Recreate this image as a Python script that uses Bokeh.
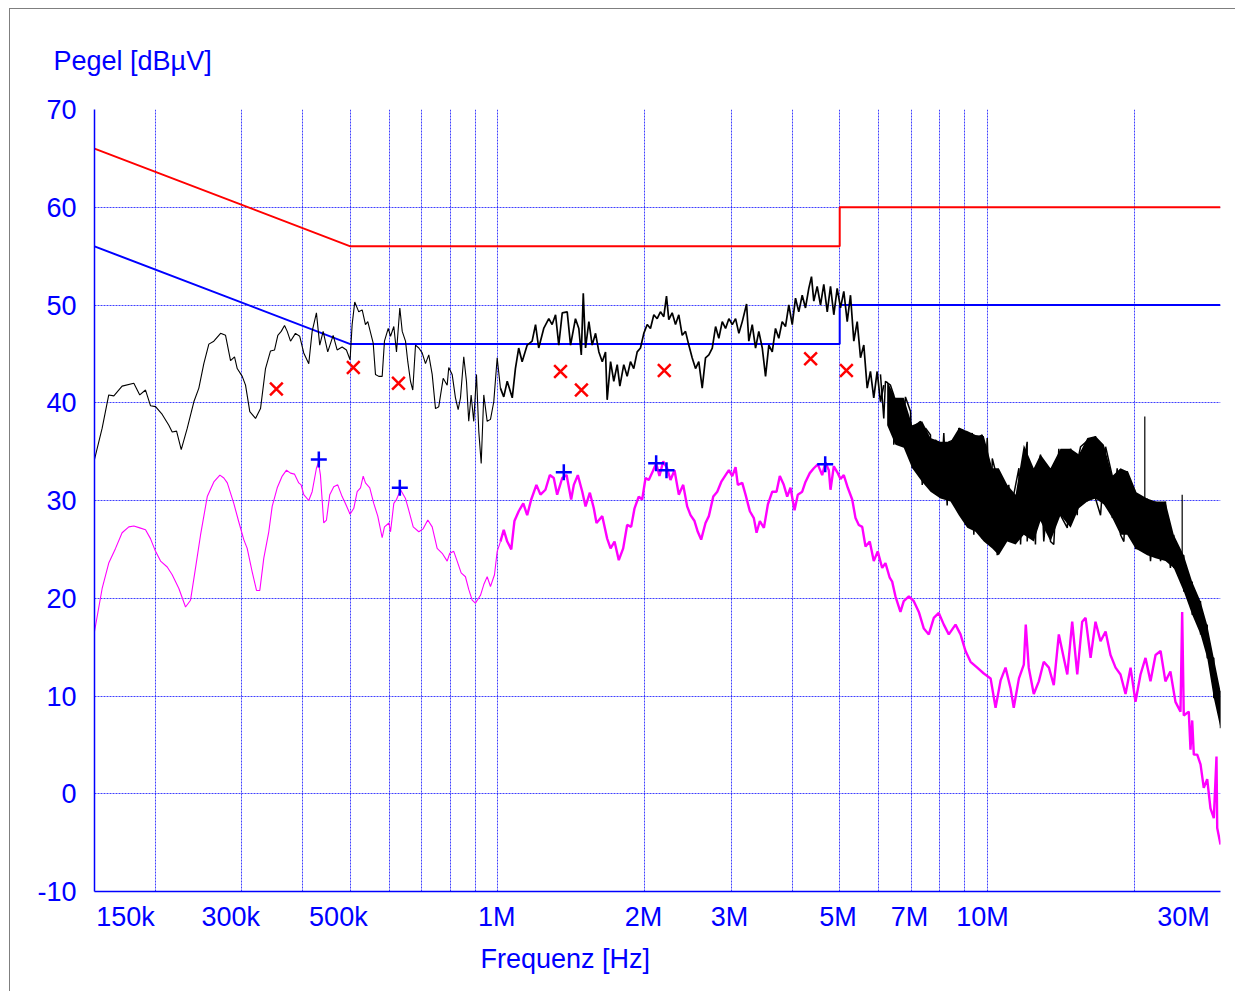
from bokeh.plotting import figure
from bokeh.models import Range1d, FixedTicker, Title, CustomJSTickFormatter
from bokeh.embed import file_html
from bokeh.resources import INLINE
import math

# ---------------- data (frequency in MHz, level in dBuV) ----------------
limit_qp_f = [0.15, 0.5, 5.0, 5.0, 30.0]
limit_qp_v = [66, 56, 56, 60, 60]
limit_av_f = [0.15, 0.5, 5.0, 5.0, 30.0]
limit_av_v = [56, 46, 46, 50, 50]

# black scan 0.15 - 6.2 MHz
peak_pts = [
    (0.150, 34.2), (0.1555, 37.4), (0.1604, 40.8), (0.1643, 40.7), (0.1708, 41.7),
    (0.1805, 42.0), (0.1856, 40.8), (0.1907, 41.3), (0.1952, 39.7), (0.1999, 39.6),
    (0.2063, 38.8), (0.2128, 37.7), (0.2162, 37.0), (0.2207, 37.1), (0.2256, 35.2),
    (0.2321, 37.4), (0.2394, 40.1), (0.2451, 41.5), (0.2509, 44.0), (0.2569, 46.0),
    (0.2630, 46.3), (0.2715, 47.1), (0.2779, 46.9), (0.2845, 44.3), (0.2899, 44.7),
    (0.2936, 43.5), (0.3006, 42.7), (0.3053, 41.8), (0.3115, 39.1), (0.3200, 38.4),
    (0.3276, 39.4), (0.3354, 43.5), (0.3434, 45.3), (0.3500, 45.4), (0.3554, 46.9),
    (0.3611, 47.3), (0.3668, 47.9), (0.3715, 47.3), (0.3773, 46.3), (0.3861, 47.1),
    (0.3940, 46.8), (0.4015, 45.1), (0.4111, 44.0), (0.4177, 47.3), (0.4262, 49.2),
    (0.4329, 45.9), (0.4399, 47.3), (0.4495, 45.2), (0.4611, 46.9), (0.4698, 45.4),
    (0.4810, 45.7), (0.4908, 45.4), (0.4993, 44.4), (0.5042, 48.0), (0.5104, 50.3),
    (0.5202, 49.3), (0.5286, 49.5), (0.5368, 48.0), (0.5427, 48.3), (0.5567, 46.1),
    (0.5627, 42.9), (0.5715, 42.7), (0.5807, 42.7), (0.5870, 46.3), (0.5975, 47.6),
    (0.6040, 46.8), (0.6134, 47.8), (0.6212, 45.2), (0.6310, 49.7), (0.6382, 47.3),
    (0.6481, 46.3), (0.6551, 44.2), (0.6635, 42.2), (0.6707, 41.3), (0.6794, 45.9),
    (0.6900, 45.6), (0.7010, 45.1), (0.7120, 44.0), (0.7231, 44.9), (0.7348, 42.9),
    (0.7463, 39.4), (0.7579, 39.6), (0.7738, 42.5), (0.7885, 41.8), (0.7944, 43.6),
    (0.8072, 42.9), (0.8198, 40.5), (0.8303, 39.3), (0.8394, 40.5), (0.8525, 44.7),
    (0.8634, 42.2), (0.8727, 38.1), (0.8826, 40.8), (0.8935, 38.1), (0.9051, 42.9),
    (0.9149, 37.1), (0.9254, 33.8), (0.9367, 40.8), (0.9518, 38.1), (0.9667, 38.3),
    (0.9818, 40.1), (0.9977, 44.6), (1.013, 41.5), (1.029, 40.6), (1.046, 42.2),
    (1.071, 40.5), (1.087, 43.5), (1.104, 45.6), (1.122, 44.2), (1.149, 45.9),
    (1.176, 46.3), (1.195, 48.0), (1.213, 45.6), (1.242, 47.6), (1.272, 48.6),
    (1.292, 48.0), (1.313, 49.0), (1.333, 45.9), (1.355, 49.2), (1.387, 49.3),
    (1.409, 45.9), (1.442, 48.6), (1.465, 47.6), (1.482, 44.9), (1.496, 51.2),
    (1.512, 45.6), (1.536, 48.3), (1.560, 45.9), (1.585, 47.1), (1.610, 45.2),
    (1.636, 44.2), (1.661, 45.2), (1.674, 40.3), (1.701, 44.2), (1.727, 42.2),
    (1.755, 43.9), (1.777, 41.7), (1.810, 43.9), (1.839, 42.7), (1.868, 44.2),
    (1.897, 43.5), (1.928, 45.2), (1.958, 45.6), (1.989, 47.1), (2.021, 48.0),
    (2.052, 47.6), (2.085, 49.0), (2.118, 48.6), (2.151, 49.3), (2.185, 48.8),
    (2.213, 50.9), (2.237, 48.5), (2.273, 49.2), (2.309, 48.0), (2.345, 49.0),
    (2.383, 46.9), (2.420, 47.3), (2.458, 45.9), (2.497, 44.6), (2.537, 43.5),
    (2.576, 44.2), (2.618, 41.5), (2.659, 44.6), (2.701, 44.9), (2.745, 45.6),
    (2.788, 47.8), (2.831, 46.6), (2.877, 48.3), (2.922, 47.6), (2.968, 48.6),
    (3.016, 48.0), (3.063, 48.6), (3.111, 47.1), (3.161, 48.3), (3.226, 50.1),
    (3.260, 46.3), (3.313, 48.0), (3.365, 45.6), (3.417, 47.3), (3.473, 45.6),
    (3.527, 42.7), (3.582, 45.9), (3.640, 45.2), (3.696, 47.6), (3.754, 46.6),
    (3.814, 48.3), (3.874, 47.8), (3.935, 50.0), (3.999, 48.0), (4.061, 50.7),
    (4.124, 49.3), (4.191, 51.0), (4.256, 49.7), (4.323, 51.7), (4.378, 52.9),
    (4.426, 50.4), (4.497, 51.9), (4.568, 50.0), (4.639, 52.1), (4.715, 49.3),
    (4.788, 51.9), (4.863, 49.0), (4.941, 51.7), (5.019, 49.7), (5.097, 51.4),
    (5.180, 48.3), (5.260, 51.0), (5.343, 46.3), (5.429, 48.3), (5.514, 44.6),
    (5.600, 45.9), (5.690, 41.5), (5.778, 43.2), (5.869, 40.5), (5.963, 43.2),
    (6.057, 40.1), (6.152, 41.8),
]

# black scan above 6.2 MHz: upper / lower edge of the dense noise band
band_f = [6.251, 6.499, 6.758, 7.033, 7.372, 7.665, 8.034, 8.421, 8.756, 9.111,
          9.473, 9.850, 10.25, 10.57, 11.00, 11.44, 11.89, 12.46, 12.86, 13.48,
          14.13, 14.82, 15.41, 16.03, 16.66, 17.33, 18.03, 18.74, 19.34, 20.11,
          21.25, 22.10, 23.15, 24.08, 25.24, 26.26, 27.31, 28.18, 29.07, 30.0]
band_hi = [42.2, 40.5, 40.5, 37.7, 38.1, 36.4, 36.0, 36.0, 37.4, 37.1,
           36.7, 36.6, 33.3, 33.3, 31.6, 30.6, 35.7, 33.3, 34.7, 33.3,
           35.3, 35.3, 34.7, 36.4, 36.6, 35.7, 32.5, 33.3, 33.0, 30.9,
           30.2, 29.9, 29.9, 26.5, 24.4, 21.7, 19.7, 17.3, 13.9, 10.5]
band_lo = [37.7, 35.7, 35.4, 33.3, 31.9, 30.9, 30.2, 29.9, 28.5, 27.2,
           26.8, 25.8, 25.1, 24.4, 25.8, 25.5, 26.5, 25.8, 27.9, 25.8,
           28.5, 27.2, 29.2, 29.9, 30.2, 29.6, 28.2, 26.5, 26.5, 25.1,
           24.4, 24.1, 23.8, 23.1, 20.7, 18.3, 16.3, 13.9, 9.8, 6.7]
# tips of the noise spikes above 6 MHz (upper and lower)
tip_pts = [
    (6.057, 42.9), (6.152, 38.4), (6.201, 42.2), (6.349, 41.8), (6.448, 40.8),
    (6.448, 35.7), (6.602, 40.1), (6.707, 36.0), (6.812, 40.6), (6.977, 39.1),
    (7.033, 33.3), (7.143, 37.7), (7.313, 38.1), (7.372, 31.6), (7.487, 37.4),
    (7.665, 36.7), (7.665, 31.3), (7.847, 36.2), (8.034, 35.3), (8.034, 30.6),
    (8.160, 36.9), (8.291, 29.5), (8.354, 36.0), (8.553, 36.2), (8.622, 29.9),
    (8.756, 37.4), (8.941, 37.2), (9.038, 27.5), (9.111, 35.7), (9.328, 36.9),
    (9.398, 26.5), (9.550, 36.4), (9.777, 36.7), (9.777, 26.1), (10.01, 36.4),
    (10.17, 25.6), (10.25, 34.3), (10.49, 32.3), (10.49, 24.4), (10.82, 31.6),
    (10.82, 25.5), (11.08, 31.6), (11.17, 26.1), (11.34, 30.6), (11.62, 33.3),
    (11.71, 25.5), (11.89, 33.6), (12.08, 36.0), (12.08, 25.8), (12.37, 32.3),
    (12.56, 25.5), (12.66, 33.0), (12.86, 34.7), (13.06, 25.8), (13.48, 33.3),
    (13.48, 25.8), (13.69, 25.5), (14.02, 35.3), (14.13, 28.5), (14.59, 27.2),
    (14.82, 35.3), (15.29, 28.5), (15.41, 34.7), (15.53, 35.5), (16.03, 36.1),
    (16.03, 29.9), (16.66, 36.6), (16.66, 30.2), (17.06, 28.5), (17.47, 35.5),
    (18.03, 32.5), (18.03, 28.2), (18.45, 33.3), (18.74, 26.5), (19.04, 25.8),
    (19.34, 33.0), (20.11, 30.9), (20.11, 25.1), (20.59, 25.1), (21.25, 30.2),
    (21.58, 23.8), (22.10, 29.9), (22.63, 23.8), (23.15, 29.9), (23.70, 23.1),
    (24.08, 26.5), (24.08, 23.1), (25.24, 24.4), (25.24, 20.7), (26.26, 21.7),
    (26.26, 18.3), (27.31, 19.7), (27.31, 16.3), (28.18, 17.3), (28.18, 13.9),
    (29.07, 13.9), (29.07, 9.8), (30.0, 10.5), (30.0, 6.7),
]
spike_f = [21.01, 25.05]
spike_top = [38.6, 30.6]
spike_base = [30.0, 24.0]

# magenta scan
avg_pts = [
    (0.150, 16.6), (0.1555, 21.0), (0.1604, 23.6), (0.1656, 25.1), (0.1708, 26.7),
    (0.1763, 27.3), (0.1805, 27.4), (0.1856, 27.2), (0.1907, 27.0), (0.1952, 26.1),
    (0.1999, 24.8), (0.2047, 23.8), (0.2112, 23.2), (0.2162, 22.4), (0.2231, 21.0),
    (0.2302, 19.1), (0.2357, 19.8), (0.2413, 23.1), (0.2471, 26.5), (0.2550, 30.4),
    (0.2630, 31.9), (0.2706, 32.6), (0.2757, 32.3), (0.2802, 31.8), (0.2889, 29.7),
    (0.2958, 27.8), (0.3028, 26.0), (0.3077, 25.1), (0.3150, 22.7), (0.3215, 20.8),
    (0.3265, 20.8), (0.3327, 24.1), (0.3406, 26.8), (0.3461, 29.4), (0.3544, 31.3),
    (0.3628, 32.5), (0.3702, 33.1), (0.3773, 32.8), (0.3843, 32.7), (0.3922, 31.8),
    (0.3966, 31.6), (0.4015, 30.6), (0.4111, 30.0), (0.4177, 30.9), (0.4262, 33.3),
    (0.4303, 33.9), (0.4343, 32.6), (0.4411, 27.7), (0.4468, 28.0), (0.4538, 30.6),
    (0.4624, 31.4), (0.4711, 31.6), (0.4810, 30.4), (0.4885, 29.7), (0.4993, 28.6),
    (0.5081, 29.2), (0.5163, 30.9), (0.5244, 31.3), (0.5311, 32.5), (0.5368, 31.8),
    (0.5478, 31.3), (0.5582, 29.7), (0.5688, 28.4), (0.5807, 26.2), (0.5870, 27.3),
    (0.5996, 27.7), (0.6040, 26.8), (0.6134, 29.7), (0.6212, 30.1), (0.6331, 31.1),
    (0.6481, 30.2), (0.6582, 29.0), (0.6720, 27.3), (0.6900, 26.8), (0.7043, 27.1),
    (0.7197, 28.0), (0.7348, 27.3), (0.7522, 25.1), (0.7702, 24.6), (0.7885, 23.8),
    (0.7982, 24.6), (0.8133, 24.8), (0.8264, 23.8), (0.8421, 22.6), (0.8593, 22.2),
    (0.8727, 20.9), (0.8869, 19.8), (0.9004, 19.5), (0.9223, 20.3), (0.9367, 21.4),
    (0.9518, 22.2), (0.9667, 21.2), (0.9851, 22.4), (0.9977, 24.8), (1.013, 25.8),
    (1.029, 27.0), (1.046, 25.8), (1.066, 25.0), (1.082, 27.9), (1.104, 28.9),
    (1.128, 29.7), (1.149, 28.5), (1.171, 30.1), (1.200, 31.6), (1.223, 30.6),
    (1.252, 31.1), (1.278, 32.6), (1.302, 32.3), (1.323, 30.6), (1.355, 32.3),
    (1.383, 32.6), (1.413, 30.1), (1.431, 31.6), (1.458, 32.6), (1.489, 30.9),
    (1.512, 29.4), (1.543, 30.8), (1.572, 29.2), (1.592, 27.7), (1.636, 28.4),
    (1.674, 26.1), (1.701, 25.1), (1.733, 25.8), (1.768, 23.9), (1.805, 25.1),
    (1.839, 27.5), (1.874, 27.3), (1.904, 29.2), (1.942, 30.4), (1.974, 30.1),
    (2.005, 32.3), (2.036, 32.1), (2.075, 33.0), (2.108, 33.8), (2.141, 32.5),
    (2.179, 34.0), (2.220, 33.3), (2.255, 32.1), (2.298, 33.1), (2.345, 30.6),
    (2.394, 31.6), (2.439, 29.4), (2.478, 28.5), (2.525, 27.9), (2.564, 26.8),
    (2.605, 26.0), (2.659, 27.7), (2.701, 28.4), (2.758, 30.4), (2.810, 30.9),
    (2.863, 31.9), (2.922, 32.6), (2.968, 33.1), (3.016, 32.5), (3.063, 33.4),
    (3.096, 31.6), (3.161, 31.8), (3.210, 30.6), (3.276, 28.9), (3.338, 28.2),
    (3.381, 26.7), (3.434, 27.9), (3.500, 27.2), (3.566, 29.6), (3.640, 30.9),
    (3.714, 30.9), (3.772, 32.5), (3.843, 31.6), (3.905, 30.4), (3.966, 31.3),
    (4.042, 29.0), (4.105, 30.6), (4.191, 30.9), (4.256, 31.9), (4.343, 32.8),
    (4.426, 33.3), (4.510, 33.7), (4.604, 32.6), (4.677, 33.9), (4.750, 33.1),
    (4.788, 31.1), (4.863, 33.5), (4.955, 32.8), (5.019, 32.2), (5.097, 32.6),
    (5.194, 31.3), (5.303, 30.1), (5.386, 28.2), (5.470, 27.5), (5.559, 27.3),
    (5.645, 25.3), (5.759, 25.8), (5.869, 23.8), (5.980, 24.8), (6.106, 23.1),
    (6.201, 23.6), (6.327, 22.1), (6.400, 21.7), (6.499, 20.2), (6.654, 18.6),
    (6.758, 19.7), (6.922, 20.2), (7.086, 19.7), (7.255, 18.6), (7.428, 16.9),
    (7.604, 16.3), (7.785, 18.0), (7.970, 18.5), (8.160, 17.3), (8.354, 16.3),
    (8.622, 17.3), (8.828, 16.3), (9.038, 14.6), (9.254, 13.5), (9.550, 12.9),
    (9.850, 12.3), (10.17, 11.8), (10.41, 8.8), (10.66, 11.6), (10.91, 12.9),
    (11.17, 10.8), (11.34, 8.8), (11.62, 11.8), (11.89, 13.2), (12.00, 17.3),
    (12.17, 12.9), (12.46, 10.2), (12.76, 11.5), (13.06, 13.5), (13.38, 12.9),
    (13.69, 11.1), (14.02, 16.3), (14.35, 13.9), (14.59, 12.2), (14.93, 17.6),
    (15.29, 12.2), (15.65, 17.6), (15.90, 18.0), (16.28, 13.9), (16.66, 17.6),
    (17.06, 15.6), (17.47, 16.6), (17.88, 14.2), (18.31, 12.9), (18.74, 12.2),
    (19.19, 10.2), (19.65, 12.9), (20.11, 9.4), (20.59, 12.2), (21.08, 13.9),
    (21.58, 11.5), (22.10, 14.2), (22.63, 14.6), (23.15, 11.5), (23.70, 12.5),
    (24.27, 9.4), (24.85, 8.4), (25.05, 18.6), (25.24, 8.0), (25.84, 8.4),
    (26.05, 4.5), (26.26, 7.5), (26.46, 4.0), (26.89, 4.0), (27.31, 3.0),
    (27.73, 0.6), (28.18, 1.5), (28.62, -1.5), (29.07, -2.5), (29.44, 3.8),
    (29.54, -3.5), (30.0, -5.2),
]

qp_mark_f = [0.353, 0.507, 0.627, 1.344, 1.483, 2.19, 4.36, 5.16]
qp_mark_v = [41.4, 43.6, 42.0, 43.2, 41.3, 43.3, 44.5, 43.3]
av_mark_f = [0.431, 0.631, 1.365, 2.108, 2.213, 4.67]
av_mark_v = [34.2, 31.3, 32.9, 33.8, 33.1, 33.7]

x_label_vals = [0.15, 0.3, 0.5, 1, 2, 3, 5, 7, 10, 30]
x_label_text = ["150k", "300k", "500k", "1M", "2M", "3M", "5M", "7M", "10M", "30M"]
y_label_vals = [-10, 0, 10, 20, 30, 40, 50, 60, 70]
y_label_text = ["-10", "0", "10", "20", "30", "40", "50", "60", "70"]
grid_x = [0.2, 0.3, 0.4, 0.5, 0.6, 0.7, 0.8, 0.9, 1, 2, 3, 4, 5, 6, 7, 8, 9, 10, 20, 30]
grid_y = [70, 60, 50, 40, 30, 20, 10, 0, -10]

# ---------------- styling ----------------
BLUE = "#0000FF"
FONT = "Liberation Sans"
SPLIT = 1.013  # traces drawn heavier above this frequency
FRAME_W, FRAME_H = 1126, 782
# horizontal shift (px) of each frequency label relative to its frequency, as in the original
x_label_shift = [31, -11, -12, -1, -1.5, -1.6, -1.7, -1.7, -4.5, -37]
dec_per_px = math.log10(30 / 0.15) / FRAME_W
x_label_anchor = [f * 10 ** (dx * dec_per_px) for f, dx in zip(x_label_vals, x_label_shift)]

p = figure(x_axis_type="log", x_range=Range1d(0.15, 30), y_range=Range1d(-10, 70),
           frame_width=FRAME_W, frame_height=FRAME_H,
           min_border_left=84, min_border_right=15, min_border_top=99, min_border_bottom=100,
           output_backend="svg", toolbar_location=None, title=None)
p.outline_line_color = None
p.background_fill_color = "white"
p.border_fill_color = "white"
p.styles = {"margin-left": "9px", "margin-top": "8px",
            "border-left": "1px solid #7f7f7f", "border-top": "1px solid #7f7f7f"}

xa, ya = p.xaxis[0], p.yaxis[0]
xa.ticker = FixedTicker(ticks=x_label_anchor, minor_ticks=[])
xa.formatter = CustomJSTickFormatter(args=dict(labels=x_label_text), code="return labels[index]")
xa.major_label_standoff = 10
ya.ticker = FixedTicker(ticks=y_label_vals, minor_ticks=[])
ya.formatter = CustomJSTickFormatter(args=dict(labels=y_label_text), code="return labels[index]")
ya.major_label_standoff = 18
for ax in (xa, ya):
    ax.major_tick_in = 0
    ax.major_tick_out = 0
    ax.minor_tick_in = 0
    ax.minor_tick_out = 0
    ax.major_tick_line_color = None
    ax.minor_tick_line_color = None
    ax.axis_line_color = BLUE
    ax.axis_line_width = 1.5
    ax.major_label_text_font = FONT
    ax.major_label_text_font_size = "27px"
    ax.major_label_text_color = BLUE

p.xgrid.ticker = FixedTicker(ticks=grid_x, minor_ticks=[])
p.ygrid.ticker = FixedTicker(ticks=grid_y, minor_ticks=[])
for g in (p.xgrid[0], p.ygrid[0]):
    g.grid_line_color = BLUE
    g.grid_line_dash = "2 1"
    g.grid_line_width = 1
    g.grid_line_alpha = 0.75

p.add_layout(Title(text="Pegel [dBµV]", align="left", offset=-41, standoff=68,
                   text_font=FONT, text_font_size="27px", text_font_style="normal",
                   text_color=BLUE), "above")
p.add_layout(Title(text="Frequenz [Hz]", align="left", offset=386, standoff=14,
                   text_font=FONT, text_font_size="27px", text_font_style="normal",
                   text_color=BLUE), "below")

# limits
p.line(limit_qp_f, limit_qp_v, line_color="#FF0000", line_width=2)
p.line(limit_av_f, limit_av_v, line_color=BLUE, line_width=2)

# black scan
pk_low = [pt for pt in peak_pts if pt[0] <= SPLIT]
pk_high = [pt for pt in peak_pts if pt[0] >= SPLIT]
p.line([a for a, b in pk_low], [b for a, b in pk_low], line_color="black", line_width=1.1)
p.line([a for a, b in pk_high], [b for a, b in pk_high], line_color="black", line_width=1.7)
p.varea(x=band_f, y1=band_lo, y2=band_hi, fill_color="black")
p.line([a for a, b in tip_pts], [b for a, b in tip_pts], line_color="black", line_width=1.5)
p.segment(x0=spike_f, y0=spike_base, x1=spike_f, y1=spike_top, line_color="black", line_width=1.2)

# magenta scan
av_low = [pt for pt in avg_pts if pt[0] <= SPLIT]
av_high = [pt for pt in avg_pts if pt[0] >= SPLIT]
p.line([a for a, b in av_low], [b for a, b in av_low], line_color="#FF00FF", line_width=1.1)
p.line([a for a, b in av_high], [b for a, b in av_high], line_color="#FF00FF", line_width=2.4)

# final measurement markers
p.scatter(qp_mark_f, qp_mark_v, marker="x", size=18, line_color="#FF0000", line_width=2.5)
p.scatter(av_mark_f, av_mark_v, marker="cross", size=16, line_color=BLUE, line_width=2.5)

open("out.html", "w").write(file_html(p, INLINE))
